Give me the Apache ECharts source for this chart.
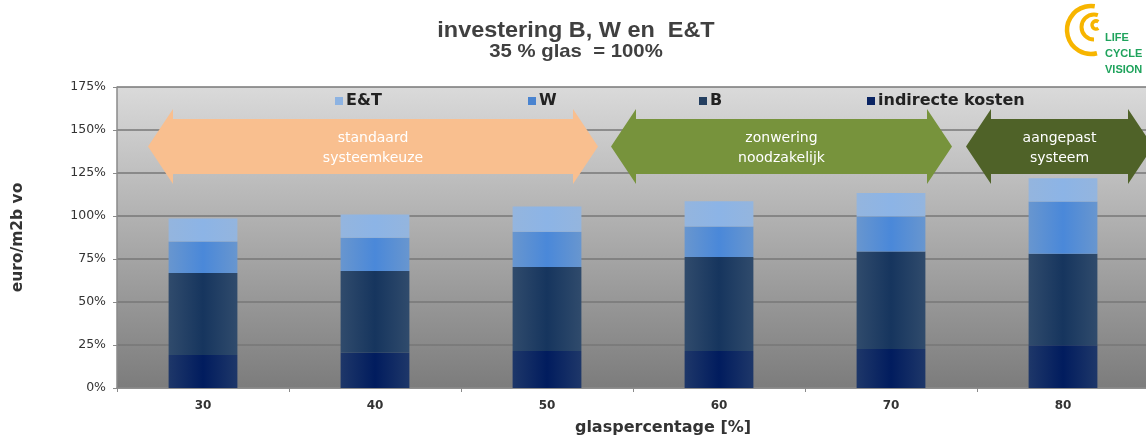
<!DOCTYPE html>
<html>
<head>
<meta charset="utf-8">
<script src="https://cdn.jsdelivr.net/npm/echarts@6/dist/echarts.min.js"></script>
<style>
  html, body { margin: 0; padding: 0; background: #ffffff; }
  #chart { width: 1146px; height: 437px; }
</style>
</head>
<body>
<div id="chart"></div>
<script>
// ---- data (percent of reference 35 % glas = 100%) ----
const categories = ['30', '40', '50', '60', '70', '80'];
const indirecteKosten = [19.2, 20.5, 21.5, 21.5, 22.7, 24.9];
const seriesB = [47.6, 47.5, 48.8, 54.6, 56.7, 53.1];
const seriesW = [18.4, 19.3, 20.5, 17.8, 20.3, 30.5];
const seriesET = [13.3, 13.5, 14.7, 14.7, 13.6, 13.4];
const yTicks = { min: 0, max: 175, interval: 25 };
const arrowLabels = ['standaard\nsysteemkeuze', 'zonwering\nnoodzakelijk', 'aangepast\nsysteem'];
const titleText = 'investering B, W en  E&T';
const subtitleText = '35 % glas  = 100%';

const chart = echarts.init(document.getElementById('chart'));

function hGrad(edge, center) {
  return new echarts.graphic.LinearGradient(0, 0, 1, 0, [
    { offset: 0, color: edge },
    { offset: 0.5, color: center },
    { offset: 1, color: edge }
  ]);
}

function arrowPoints(xl, xr, head, yHeadTop, yBodyTop, yBodyBot, yHeadBot) {
  const ym = (yHeadTop + yHeadBot) / 2;
  return [
    [xl, ym], [xl + head, yHeadTop], [xl + head, yBodyTop],
    [xr - head, yBodyTop], [xr - head, yHeadTop], [xr, ym],
    [xr - head, yHeadBot], [xr - head, yBodyBot], [xl + head, yBodyBot],
    [xl + head, yHeadBot]
  ];
}

const arrows = [
  { xl: 148, xr: 598, color: '#f9bf8f' },
  { xl: 611, xr: 952, color: '#77933c' },
  { xl: 966, xr: 1153, color: '#4f6228' }
];

const graphics = [];
arrows.forEach((a, i) => {
  graphics.push({
    type: 'polygon', z: 10,
    shape: { points: arrowPoints(a.xl, a.xr, 25, 109, 119, 174, 184) },
    style: { fill: a.color }
  });
  graphics.push({
    type: 'text', z: 11,
    x: (a.xl + a.xr) / 2, y: 148,
    style: {
      text: arrowLabels[i], fill: '#ffffff',
      font: '14px "DejaVu Sans", sans-serif',
      align: 'center', verticalAlign: 'middle', lineHeight: 20
    }
  });
});

// titles (slightly wide lettering as in the reference)
graphics.push(
  { type: 'text', x: 576, y: 31, scaleX: 1.065,
    style: { text: titleText, fill: '#404040', font: 'bold 22px "Liberation Sans", Arial', align: 'center', verticalAlign: 'middle' } },
  { type: 'text', x: 576, y: 51.5, scaleX: 1.07,
    style: { text: subtitleText, fill: '#404040', font: 'bold 19px "Liberation Sans", Arial', align: 'center', verticalAlign: 'middle' } }
);

// logo
const logoYellow = '#f7b500';
const logoGreen = '#1fa35c';
graphics.push(
  { type: 'arc', shape: { cx: 1091, cy: 30, r: 24, startAngle: Math.PI * 0.42, endAngle: Math.PI * 1.55 },
    style: { stroke: logoYellow, lineWidth: 4.5, fill: null } },
  { type: 'arc', shape: { cx: 1094, cy: 27, r: 12.5, startAngle: Math.PI * 0.5, endAngle: Math.PI * 1.6 },
    style: { stroke: logoYellow, lineWidth: 4, fill: null } },
  { type: 'arc', shape: { cx: 1096, cy: 25, r: 4, startAngle: Math.PI * 0.3, endAngle: Math.PI * 1.7 },
    style: { stroke: logoYellow, lineWidth: 3.5, fill: null } },
  { type: 'text', x: 1105, y: 38, style: { text: 'LIFE', fill: logoGreen, font: 'bold 11px "Liberation Sans", Arial', verticalAlign: 'middle' } },
  { type: 'text', x: 1105, y: 54, style: { text: 'CYCLE', fill: logoGreen, font: 'bold 11px "Liberation Sans", Arial', verticalAlign: 'middle' } },
  { type: 'text', x: 1105, y: 70, style: { text: 'VISION', fill: logoGreen, font: 'bold 11px "Liberation Sans", Arial', verticalAlign: 'middle' } },
  // x-axis name
  { type: 'text', x: 663, y: 428, style: { text: 'glaspercentage [%]', fill: '#333333', font: 'bold 16px "DejaVu Sans", sans-serif', align: 'center', verticalAlign: 'middle' } }
);

const legendFont = { fontSize: 16, fontWeight: 'bold', color: '#222222', fontFamily: '"DejaVu Sans", sans-serif' };
function mkLegend(name, color, left) {
  return {
    left: left, top: 93, itemWidth: 8, itemHeight: 8, itemGap: 4, padding: 0,
    icon: 'rect', textStyle: Object.assign({ padding: [0, 0, 0, -2] }, legendFont),
    data: [{ name: name, itemStyle: { color: color } }],
    selectedMode: false
  };
}

const option = {
  animation: false,
  backgroundColor: '#ffffff',
  legend: [
    mkLegend('E&T', '#8db3e2', 335),
    mkLegend('W', '#4a84d0', 528),
    mkLegend('B', '#243f60', 699),
    mkLegend('indirecte kosten', '#0a2463', 867)
  ],
  grid: {
    left: 117, top: 87, width: 1032, height: 301,
    outerBoundsMode: 'none', containLabel: false,
    show: true, borderWidth: 0,
    backgroundColor: new echarts.graphic.LinearGradient(0, 0, 0, 1, [
      { offset: 0, color: '#dadada' },
      { offset: 1, color: '#7c7c7c' }
    ])
  },
  xAxis: {
    type: 'category', data: categories,
    axisLine: { lineStyle: { color: '#8a8a8a', width: 1.5 } },
    axisTick: { show: true, length: 4, lineStyle: { color: '#8a8a8a' } },
    axisLabel: { color: '#333333', fontSize: 12, fontWeight: 'bold', margin: 12, fontFamily: '"DejaVu Sans", sans-serif' }
  },
  yAxis: {
    type: 'value', min: yTicks.min, max: yTicks.max, interval: yTicks.interval,
    name: 'euro/m2b vo', nameLocation: 'middle', nameGap: 91, nameRotate: 90,
    nameTextStyle: { fontSize: 15.5, fontWeight: 'bold', color: '#333333', fontFamily: '"DejaVu Sans", sans-serif' },
    axisLine: { show: true, lineStyle: { color: '#8a8a8a', width: 1.5 } },
    axisTick: { show: true, length: 4, lineStyle: { color: '#8a8a8a' } },
    axisLabel: { formatter: '{value}%', color: '#333333', fontSize: 12.5, margin: 11, fontFamily: '"DejaVu Sans", sans-serif' },
    splitLine: { lineStyle: { color: '#777777', width: 1.5 } }
  },
  series: [
    { name: 'indirecte kosten', type: 'bar', stack: 'tot', barWidth: '40%', data: indirecteKosten,
      itemStyle: { color: hGrad('#1e3769', '#011c5e') } },
    { name: 'B', type: 'bar', stack: 'tot', data: seriesB,
      itemStyle: { color: hGrad('#304b6c', '#16355e') } },
    { name: 'W', type: 'bar', stack: 'tot', data: seriesW,
      itemStyle: { color: hGrad('#6896cf', '#4a88d9') } },
    { name: 'E&T', type: 'bar', stack: 'tot', data: seriesET,
      itemStyle: { color: hGrad('#94b5de', '#8cb4e6') } }
  ],
  graphic: graphics
};

chart.setOption(option);
</script>
</body>
</html>
